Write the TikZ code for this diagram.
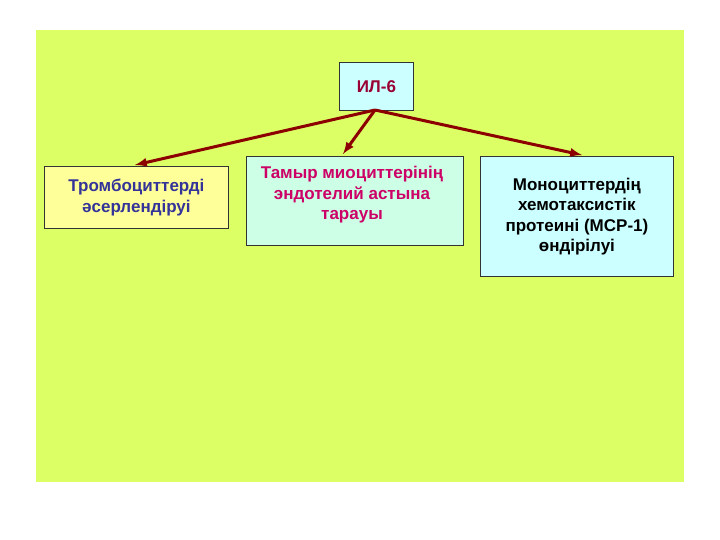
\documentclass[tikz,border=0pt]{standalone}
\usepackage{fontspec}
\setmainfont{Liberation Sans}
\begin{document}
\begin{tikzpicture}[x=1pt,y=-1pt,
  bx/.style={draw=black!80,line width=0.8pt,inner sep=0pt,anchor=north west,align=center,font=\bfseries\fontsize{17}{20.5}\selectfont},
  arr/.style={draw=red!55!black,line width=3pt,-latex}]
\useasboundingbox (0,0) rectangle (720,540);
\fill[white] (0,0) rectangle (720,540);
\fill[fill={rgb,255:red,221;green,255;blue,102}] (36,30) rectangle (684,482);
\node[bx,fill={rgb,255:red,204;green,255;blue,255},minimum width=74pt,minimum height=48pt,text={rgb,255:red,153;green,0;blue,51}] (il) at (339,62) {ИЛ-6};
\node[bx,fill={rgb,255:red,255;green,255;blue,153},minimum width=184pt,minimum height=62pt,text={rgb,255:red,51;green,51;blue,153}] (a) at (44,166) {Тромбоциттерді\\әсерлендіруі};
\node[bx,fill={rgb,255:red,204;green,255;blue,230},minimum width=217pt,minimum height=89pt,text={rgb,255:red,204;green,0;blue,102}] (b) at (246,156) {};
\node[anchor=north,align=center,font=\bfseries\fontsize{17}{20.5}\selectfont,text={rgb,255:red,204;green,0;blue,102},inner sep=0pt] (bt) at (352,166) {Тамыр миоциттерінің\\эндотелий астына\\тарауы};
\node[bx,fill={rgb,255:red,204;green,255;blue,255},minimum width=193pt,minimum height=120pt,text=black] (c) at (480,156) {Моноциттердің\\хемотаксистік\\протеині (МСР-1)\\өндірілуі};
\coordinate (s) at (375,110);
\draw[arr] (s) -- (135,165);
\draw[arr] (s) -- (343,154);
\draw[arr] (s) -- (582,155);
\end{tikzpicture}
\end{document}
